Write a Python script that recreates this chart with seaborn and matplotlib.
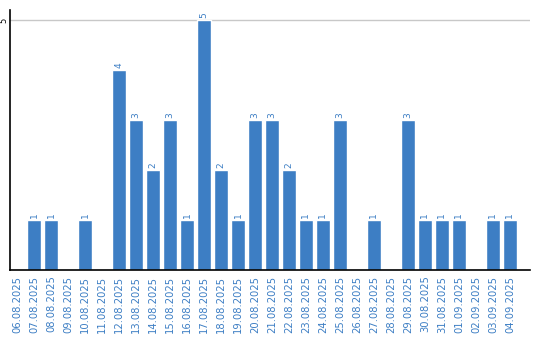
import matplotlib
matplotlib.use("Agg")
import matplotlib.pyplot as plt
import seaborn as sns
import pandas as pd

dates = ["06.08.2025","07.08.2025","08.08.2025","09.08.2025","10.08.2025","11.08.2025",
         "12.08.2025","13.08.2025","14.08.2025","15.08.2025","16.08.2025","17.08.2025",
         "18.08.2025","19.08.2025","20.08.2025","21.08.2025","22.08.2025","23.08.2025",
         "24.08.2025","25.08.2025","26.08.2025","27.08.2025","28.08.2025","29.08.2025",
         "30.08.2025","31.08.2025","01.09.2025","02.09.2025","03.09.2025","04.09.2025"]
counts = [0,1,1,0,1,0,4,3,2,3,1,5,2,1,3,3,2,1,1,3,0,1,0,3,1,1,1,0,1,1]

bar_color = "#3d7ec4"
text_color = "#3d7ec4"

sns.set_theme(style="white")
plt.rcParams['font.family'] = ['DejaVu Sans']

df = pd.DataFrame({"date": dates, "count": counts})

fig = plt.figure(figsize=(5.4, 3.4), dpi=100)
ax = fig.add_axes([10/540, 70/340, 520/540, 260/340])
sns.barplot(data=df, x="date", y="count", color=bar_color, width=0.82,
            saturation=1, ax=ax, order=dates)

ax.set_xlim(-0.41, 30.18)
ax.set_ylim(0, 5.2)
ax.set_yticks([5])
ax.set_yticklabels(["5"], rotation=90, va="center", fontsize=6, color="black")
ax.yaxis.grid(True, color="#c8c8c8", linewidth=1)
ax.set_axisbelow(True)
ax.tick_params(axis="y", length=0, pad=1)
ax.tick_params(axis="x", length=0, pad=4)
ax.set_xticks(range(len(dates)))
ax.set_xticklabels(dates, rotation=90, fontsize=7.2, color=text_color)
ax.set_xlabel("")
ax.set_ylabel("")

for s in ["top", "right"]:
    ax.spines[s].set_visible(False)
for s in ["left", "bottom"]:
    ax.spines[s].set_visible(True)
    ax.spines[s].set_color("black")
    ax.spines[s].set_linewidth(1.2)

for i, v in enumerate(counts):
    if v > 0:
        ax.annotate(str(v), (i, v), xytext=(0, 1.5), textcoords="offset points",
                    rotation=90, ha="center", va="bottom", fontsize=6.5, color=text_color)

fig.savefig("out.png", dpi=100)
